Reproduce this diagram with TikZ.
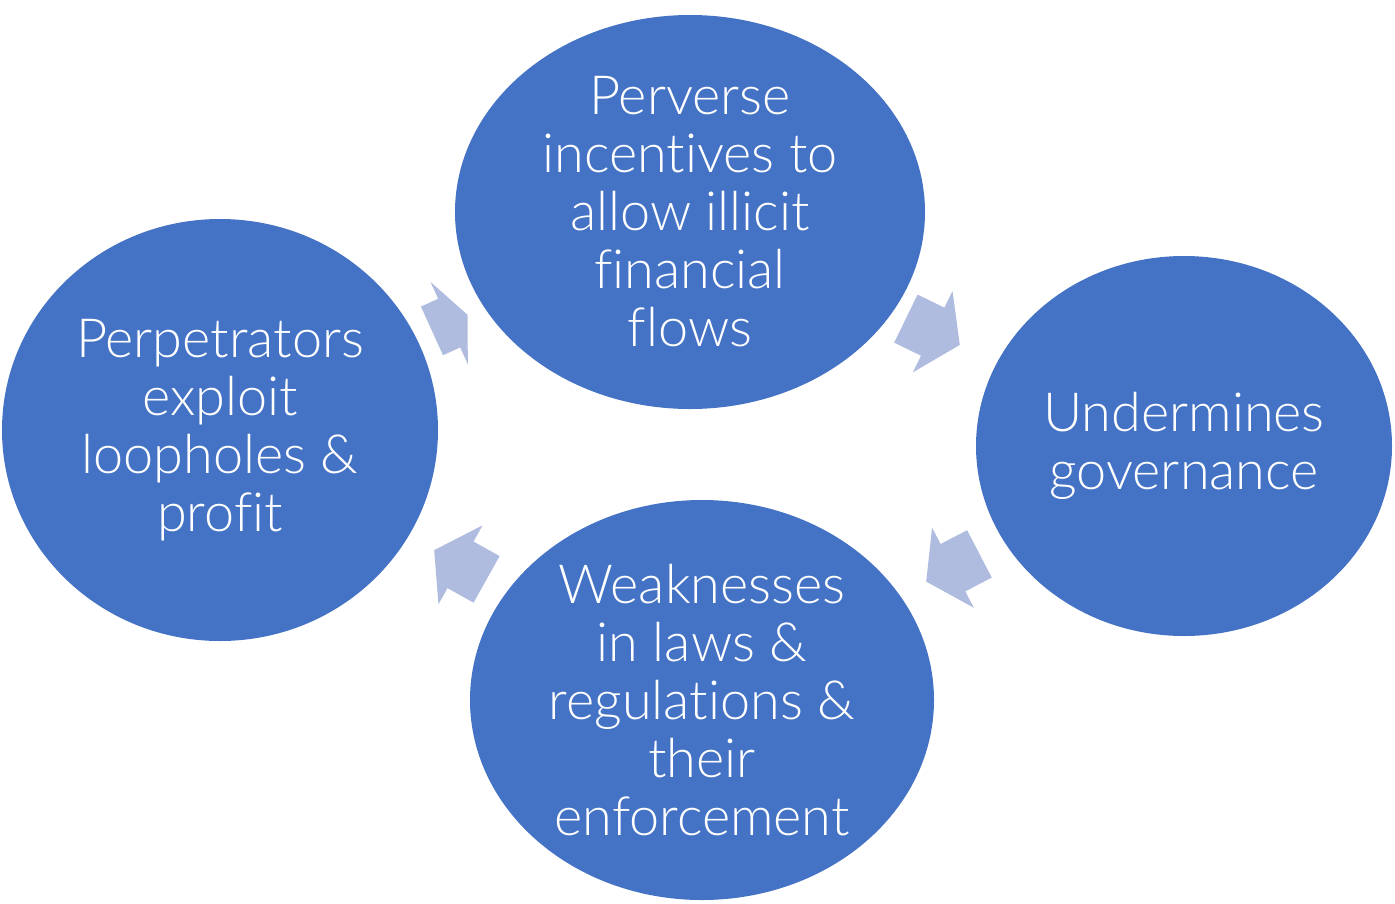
\documentclass[tikz,border=0pt]{standalone}
\usepackage{fontspec}
\setmainfont{Lato}[UprightFont=* Light,Ligatures=NoCommon]
\usetikzlibrary{
  shapes.geometric, % Shape "ellipse"
  shapes.arrows,    % Shape "single arrow"
}
\definecolor{cycleblue}{RGB}{68,114,196}
\definecolor{arrowblue}{RGB}{175,188,223}
\def\mytextsize{\fontsize{54}{58}\selectfont}
\tikzset{
  x=1pt,
  y=-1pt,
  my ellipse/.style={
    draw=none,
    fill=cycleblue,
    text=white,
    inner sep=0mm,
    align=center,
    font=\mytextsize,
    ellipse
  },
  my arrow/.style={
    fill=arrowblue,
    inner xsep=0pt,
    inner ysep=26.5pt,   % half the shaft width
    minimum width=90pt,
    minimum height=60pt,
    single arrow head extend=18.5pt,
    single arrow tip angle=112.6,
    anchor=tip,
    single arrow
  },
  short/.style={
    minimum height=39pt,
    single arrow tip angle=132
  }
}
\begin{document}
\begin{tikzpicture}
\useasboundingbox (0,0) rectangle (1395,903);
\node[my ellipse,minimum width=470pt,minimum height=394pt] (perv)  at (690,212)
  {Perverse\\incentives to\\allow illicit\\financial\\flows};
\node[my ellipse,minimum width=416pt,minimum height=380pt] (under) at (1184,446)
  {Undermines\\governance};
\node[my ellipse,minimum width=464pt,minimum height=400pt] (weak)  at (702,700)
  {Weaknesses\\in laws \&\\regulations \&\\their\\enforcement};
\node[my ellipse,minimum width=436pt,minimum height=422pt] (perp)  at (220,430)
  {Perpetrators\\exploit\\loopholes \&\\profit};
% arrows between the ellipses, clockwise
\node[my arrow,rotate=-26]        (a1) at (960,345)     {};
\node[my arrow,rotate=207.5]      (a2) at (926,581.7)   {};
\node[my arrow,rotate=150.8]      (a3) at (434,550)     {};
\node[my arrow,short,rotate=24.4] (a4) at (467.7,314.7) {};
\end{tikzpicture}
\end{document}
